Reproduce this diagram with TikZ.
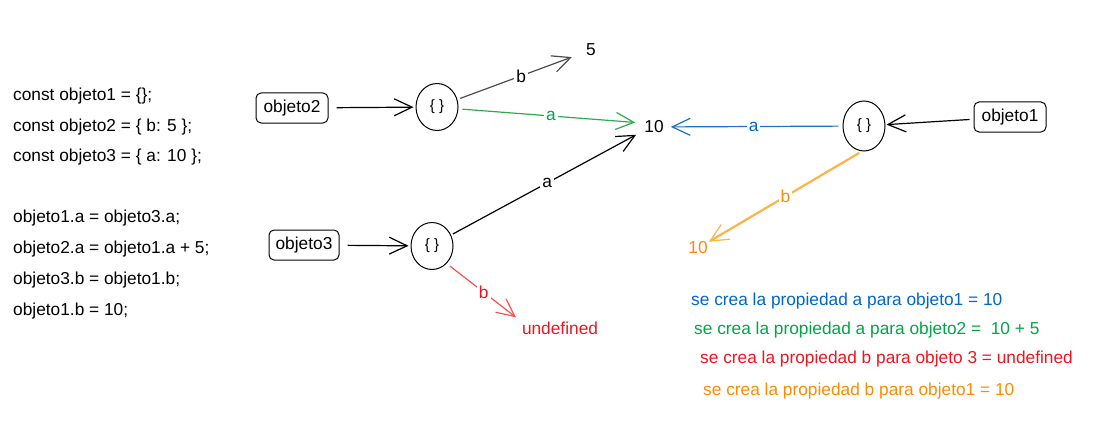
\documentclass[tikz,border=0pt]{standalone}
\usepackage{fontspec}
\setmainfont{Liberation Sans}
\usetikzlibrary{arrows.meta,shapes.geometric}
\definecolor{cblue}{RGB}{0,102,204}
\definecolor{cgreen}{RGB}{0,166,70}
\definecolor{cred}{RGB}{240,20,30}
\definecolor{corange}{RGB}{255,140,0}
\definecolor{lblue}{RGB}{25,113,194}
\definecolor{lgreen}{RGB}{47,170,80}
\definecolor{lred}{RGB}{250,82,82}
\definecolor{lorange}{RGB}{253,180,70}
\begin{document}
\begin{tikzpicture}[x=1pt,y=-1pt,
  font=\fontsize{17.3}{19}\selectfont,
  code/.style={anchor=west, inner sep=0pt},
  objbox/.style={draw, rounded corners=5pt, line width=1pt, minimum width=72pt, minimum height=30pt, inner sep=2pt},
  objcirc/.style={draw, ellipse, line width=1pt, minimum width=42pt, minimum height=47pt, inner sep=0pt, font=\fontsize{15}{16}\selectfont},
  val/.style={inner sep=1pt},
  link/.style={line width=1.2pt, -{Straight Barb[length=18pt,width=17pt,line width=1.2pt]}},
  lbl/.style={fill=white, inner sep=2pt},
  note/.style={anchor=west, inner sep=0pt}
]
\useasboundingbox (0,0) rectangle (1099,425);

% code
\node[code] (l1) at (13,96) {const objeto1 = \{\};};
\node[code] (l2) at (13,127) {const objeto2 = \{ b: 5 \};};
\node[code] (l3) at (13,157) {const objeto3 = \{ a: 10 \};};
\node[code] (l4) at (13,218) {objeto1.a = objeto3.a;};
\node[code] (l5) at (13,249) {objeto2.a = objeto1.a + 5;};
\node[code] (l6) at (13,280) {objeto3.b = objeto1.b;};
\node[code] (l7) at (13,311) {objeto1.b = 10;};

% objeto2
\node[objbox] (o2) at (292,108) {objeto2};
\node[objcirc] (c2) at (437,107) {\{ \}};
\node[val] (five) at (591,50) {5};
\node[val] (ten) at (654,127) {10};
\draw[link, shorten <=8pt, shorten >=2pt] (o2) -- (c2);
\draw[link, black!70, shorten <=3pt, shorten >=14pt] (c2) -- node[lbl, text=black] {b} (five);
\draw[link, lgreen, shorten <=4pt, shorten >=8pt] (c2.-5) -- node[lbl, text=cgreen] {a} (ten.160);

% objeto3
\node[objbox, minimum width=70pt] (o3) at (304,245) {objeto3};
\node[objcirc] (c3) at (432,246) {\{ \}};
\node[val, text=cred] (undef) at (560,328) {undefined};
\draw[link, shorten <=8pt, shorten >=2pt] (o3) -- (c3);
\draw[link, shorten <=2pt, shorten >=8pt] (c3.30) -- node[lbl] {a} (ten.200);
\draw[link, lred, shorten <=4pt, shorten >=6pt] (c3.-50) -- node[lbl, text=cred] {b} (undef.170);

% objeto1
\node[objbox] (o1) at (1010,117) {objeto1};
\node[objcirc, minimum height=50pt] (c1) at (864,126) {\{ \}};
\node[val, text=corange] (ten2) at (698,248) {10};
\draw[link, shorten <=4pt, shorten >=1pt] (o1) -- (c1);
\draw[link, lblue, shorten <=4pt, shorten >=6pt] (c1) -- node[lbl, text=cblue] {a} (ten);
\draw[link, lorange, line width=2.2pt, shorten <=3pt] (c1.-95) -- node[lbl, text=corange] {b} (ten2.30);

% notes
\node[note, text=cblue] (n1) at (691,301) {se crea la propiedad a para objeto1 = 10};
\node[note, text=cgreen] (n2) at (694,330) {se crea la propiedad a para objeto2 =\ \ 10 + 5};
\node[note, text=cred] (n3) at (700,359) {se crea la propiedad b para objeto 3 = undefined};
\node[note, text=corange] (n4) at (703,391) {se crea la propiedad b para objeto1 = 10};
\end{tikzpicture}
\end{document}
